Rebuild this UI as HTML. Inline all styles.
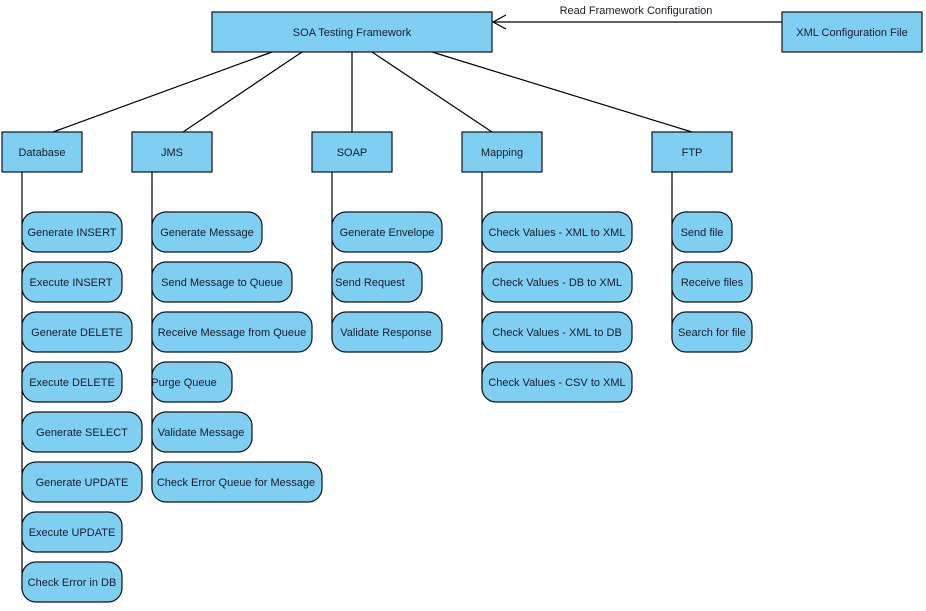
<!DOCTYPE html>
<html><head><meta charset="utf-8"><style>
body{margin:0;background:#fff;}
svg text{font-family:"Liberation Sans",sans-serif;font-size:11px;fill:#1a1a2a;text-anchor:middle;dominant-baseline:central;}
</style></head><body>
<svg width="926" height="606" xmlns="http://www.w3.org/2000/svg">
<g stroke="#000" stroke-width="1.2" fill="none">
<line x1="53" y1="132" x2="272" y2="52"/>
<line x1="183" y1="132" x2="302" y2="52"/>
<line x1="352" y1="132" x2="352" y2="52"/>
<line x1="492" y1="132" x2="372" y2="52"/>
<line x1="692" y1="132" x2="432" y2="52"/>
<line x1="782" y1="22" x2="493" y2="22"/>
<polyline points="506,15 493,22 506,29"/>
<line x1="22" y1="172" x2="22" y2="590"/>
<line x1="152" y1="172" x2="152" y2="490"/>
<line x1="332" y1="172" x2="332" y2="340"/>
<line x1="482" y1="172" x2="482" y2="390"/>
<line x1="672" y1="172" x2="672" y2="340"/>
</g>
<text x="636" y="11">Read Framework Configuration</text>
<g fill="#7fcff3" stroke="#111" stroke-width="1.2">
<rect x="212" y="12" width="280" height="40"/>
<rect x="782" y="12" width="140" height="40"/>
<rect x="2" y="132" width="80" height="40"/>
<rect x="132" y="132" width="80" height="40"/>
<rect x="312" y="132" width="80" height="40"/>
<rect x="462" y="132" width="80" height="40"/>
<rect x="652" y="132" width="80" height="40"/>
<rect x="22" y="212" width="100" height="40" rx="14"/>
<rect x="22" y="262" width="100" height="40" rx="14"/>
<rect x="22" y="312" width="110" height="40" rx="14"/>
<rect x="22" y="362" width="100" height="40" rx="14"/>
<rect x="22" y="412" width="120" height="40" rx="14"/>
<rect x="22" y="462" width="120" height="40" rx="14"/>
<rect x="22" y="512" width="100" height="40" rx="14"/>
<rect x="22" y="562" width="100" height="40" rx="14"/>
<rect x="152" y="212" width="110" height="40" rx="14"/>
<rect x="152" y="262" width="140" height="40" rx="14"/>
<rect x="152" y="312" width="160" height="40" rx="14"/>
<rect x="152" y="362" width="80" height="40" rx="14"/>
<rect x="152" y="412" width="100" height="40" rx="14"/>
<rect x="152" y="462" width="170" height="40" rx="14"/>
<rect x="332" y="212" width="110" height="40" rx="14"/>
<rect x="332" y="262" width="90" height="40" rx="14"/>
<rect x="332" y="312" width="110" height="40" rx="14"/>
<rect x="482" y="212" width="150" height="40" rx="14"/>
<rect x="482" y="262" width="150" height="40" rx="14"/>
<rect x="482" y="312" width="150" height="40" rx="14"/>
<rect x="482" y="362" width="150" height="40" rx="14"/>
<rect x="672" y="212" width="60" height="40" rx="14"/>
<rect x="672" y="262" width="80" height="40" rx="14"/>
<rect x="672" y="312" width="80" height="40" rx="14"/>
</g>
<text x="352" y="33">SOA Testing Framework</text>
<text x="852" y="33">XML Configuration File</text>
<text x="42" y="153">Database</text>
<text x="172" y="153">JMS</text>
<text x="352" y="153">SOAP</text>
<text x="502" y="153">Mapping</text>
<text x="692" y="153">FTP</text>
<text x="72" y="233">Generate INSERT</text>
<text x="71" y="283">Execute INSERT</text>
<text x="77" y="333">Generate DELETE</text>
<text x="72" y="383">Execute DELETE</text>
<text x="82" y="433">Generate SELECT</text>
<text x="82" y="483">Generate UPDATE</text>
<text x="72" y="533">Execute UPDATE</text>
<text x="72" y="583">Check Error in DB</text>
<text x="207" y="233">Generate Message</text>
<text x="222" y="283">Send Message to Queue</text>
<text x="232" y="333">Receive Message from Queue</text>
<text x="184" y="383">Purge Queue</text>
<text x="201" y="433">Validate Message</text>
<text x="236" y="483">Check Error Queue for Message</text>
<text x="387" y="233">Generate Envelope</text>
<text x="370" y="283">Send Request</text>
<text x="386" y="333">Validate Response</text>
<text x="557" y="233">Check Values - XML to XML</text>
<text x="557" y="283">Check Values - DB to XML</text>
<text x="557" y="333">Check Values - XML to DB</text>
<text x="557" y="383">Check Values - CSV to XML</text>
<text x="702" y="233">Send file</text>
<text x="712" y="283">Receive files</text>
<text x="712" y="333">Search for file</text>
</svg>
</body></html>
